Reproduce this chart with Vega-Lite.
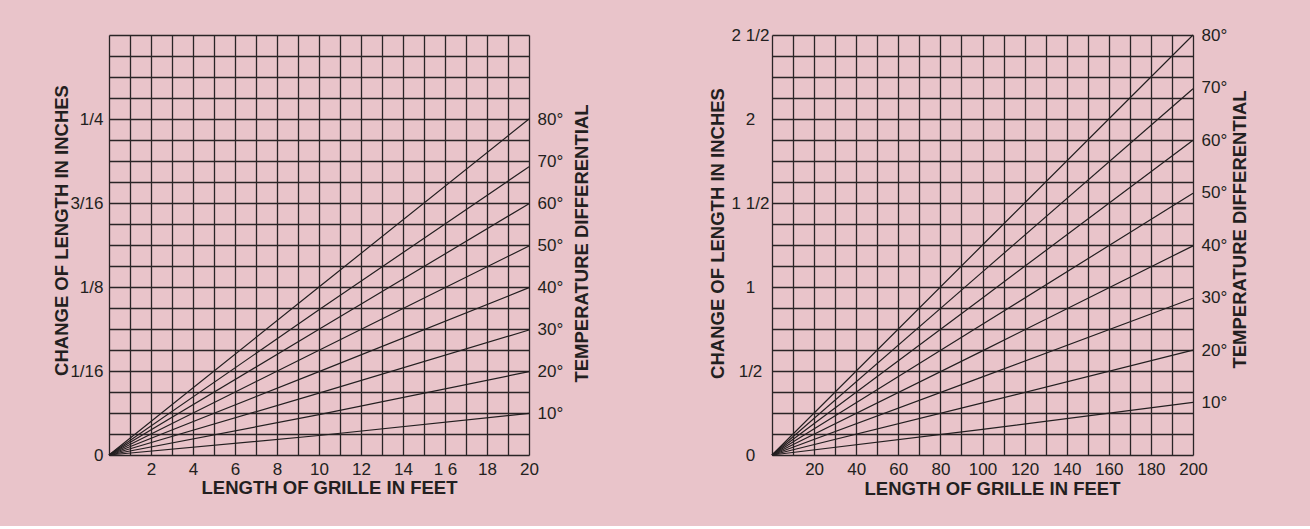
{
  "$schema": "https://vega.github.io/schema/vega-lite/v6.json",
  "background": "#e9c4ca",
  "padding": {"left": 52, "top": 26, "right": 65, "bottom": 28},
  "spacing": 243,
  "bounds": "flush",
  "datasets": {
    "leftLines": [
      {"T": 80, "ft": 0, "inch": 0}, {"T": 80, "ft": 10, "inch": 0.125}, {"T": 80, "ft": 20, "inch": 0.25},
      {"T": 70, "ft": 0, "inch": 0}, {"T": 70, "ft": 10, "inch": 0.108}, {"T": 70, "ft": 20, "inch": 0.2145},
      {"T": 60, "ft": 0, "inch": 0}, {"T": 60, "ft": 10, "inch": 0.0935}, {"T": 60, "ft": 20, "inch": 0.187},
      {"T": 50, "ft": 0, "inch": 0}, {"T": 50, "ft": 10, "inch": 0.078}, {"T": 50, "ft": 20, "inch": 0.1555},
      {"T": 40, "ft": 0, "inch": 0}, {"T": 40, "ft": 10, "inch": 0.062}, {"T": 40, "ft": 20, "inch": 0.1245},
      {"T": 30, "ft": 0, "inch": 0}, {"T": 30, "ft": 10, "inch": 0.046}, {"T": 30, "ft": 20, "inch": 0.093},
      {"T": 20, "ft": 0, "inch": 0}, {"T": 20, "ft": 10, "inch": 0.030}, {"T": 20, "ft": 20, "inch": 0.062},
      {"T": 10, "ft": 0, "inch": 0}, {"T": 10, "ft": 10, "inch": 0.0145}, {"T": 10, "ft": 20, "inch": 0.031}
    ],
    "rightLines": [
      {"T": 80, "ft": 0, "inch": 0}, {"T": 80, "ft": 100, "inch": 1.25}, {"T": 80, "ft": 200, "inch": 2.5},
      {"T": 70, "ft": 0, "inch": 0}, {"T": 70, "ft": 100, "inch": 1.09}, {"T": 70, "ft": 200, "inch": 2.18},
      {"T": 60, "ft": 0, "inch": 0}, {"T": 60, "ft": 100, "inch": 0.935}, {"T": 60, "ft": 200, "inch": 1.873},
      {"T": 50, "ft": 0, "inch": 0}, {"T": 50, "ft": 100, "inch": 0.778}, {"T": 50, "ft": 200, "inch": 1.558},
      {"T": 40, "ft": 0, "inch": 0}, {"T": 40, "ft": 100, "inch": 0.62}, {"T": 40, "ft": 200, "inch": 1.245},
      {"T": 30, "ft": 0, "inch": 0}, {"T": 30, "ft": 100, "inch": 0.465}, {"T": 30, "ft": 200, "inch": 0.933},
      {"T": 20, "ft": 0, "inch": 0}, {"T": 20, "ft": 100, "inch": 0.31}, {"T": 20, "ft": 200, "inch": 0.624},
      {"T": 10, "ft": 0, "inch": 0}, {"T": 10, "ft": 100, "inch": 0.152}, {"T": 10, "ft": 200, "inch": 0.313}
    ]
  },
  "hconcat": [
    {
      "width": 420,
      "height": 420,
      "resolve": {"scale": {"y": "independent"}},
      "layer": [
        {
          "data": {"name": "leftLines"},
          "mark": {"type": "line", "color": "#231f20", "strokeWidth": 1.2},
          "encoding": {
            "x": {
              "field": "ft", "type": "quantitative",
              "scale": {"domain": [0, 20], "nice": false},
              "axis": {
                "values": [0,1,2,3,4,5,6,7,8,9,10,11,12,13,14,15,16,17,18,19,20],
                "grid": true,
                "labelExpr": "datum.value > 0 && datum.value % 2 == 0 ? (datum.value == 16 ? '1 6' : datum.label) : ''",
                "labelBaseline": "alphabetic",
                "labelPadding": 19,
                "title": "LENGTH OF GRILLE IN FEET",
                "titleX": 220,
                "titleY": 38,
                "titleBaseline": "alphabetic",
                "titleAlign": "center"
              }
            },
            "y": {
              "field": "inch", "type": "quantitative",
              "scale": {"domain": [0, 0.3125], "nice": false},
              "axis": {
                "values": [0,0.015625,0.03125,0.046875,0.0625,0.078125,0.09375,0.109375,0.125,0.140625,0.15625,0.171875,0.1875,0.203125,0.21875,0.234375,0.25,0.265625,0.28125,0.296875,0.3125],
                "grid": true,
                "labelExpr": "datum.value == 0 ? '0' : datum.value == 0.0625 ? '1/16' : datum.value == 0.125 ? '1/8' : datum.value == 0.1875 ? '3/16' : datum.value == 0.25 ? '1/4' : ''",
                "labelPadding": 6,
                "title": "CHANGE OF LENGTH IN INCHES",
                "titleAngle": -90,
                "titleX": -42,
                "titleY": 195,
                "titleBaseline": "alphabetic",
                "titleAlign": "center"
              }
            },
            "detail": {"field": "T", "type": "nominal"}
          }
        },
        {
          "data": {"name": "leftLines"},
          "mark": {"type": "point", "opacity": 0},
          "encoding": {
            "x": {
              "field": "ft", "type": "quantitative",
              "axis": {
                "values": [0,1,2,3,4,5,6,7,8,9,10,11,12,13,14,15,16,17,18,19,20],
                "grid": true,
                "labelExpr": "datum.value > 0 && datum.value % 2 == 0 ? (datum.value == 16 ? '1 6' : datum.label) : ''",
                "labelBaseline": "alphabetic",
                "labelPadding": 19,
                "title": "LENGTH OF GRILLE IN FEET",
                "titleX": 220,
                "titleY": 38,
                "titleBaseline": "alphabetic",
                "titleAlign": "center"
              }
            },
            "y": {
              "field": "T", "type": "quantitative",
              "scale": {"domain": [0, 100], "nice": false},
              "axis": {
                "orient": "right",
                "values": [10,20,30,40,50,60,70,80],
                "grid": false,
                "labelExpr": "datum.value + '°'",
                "labelPadding": 8,
                "title": "TEMPERATURE DIFFERENTIAL",
                "titleAngle": -90,
                "titleX": 58,
                "titleY": 208,
                "titleBaseline": "alphabetic",
                "titleAlign": "center"
              }
            }
          }
        }
      ]
    },
    {
      "width": 421,
      "height": 420,
      "resolve": {"scale": {"y": "independent"}},
      "layer": [
        {
          "data": {"name": "rightLines"},
          "mark": {"type": "line", "color": "#231f20", "strokeWidth": 1.2},
          "encoding": {
            "x": {
              "field": "ft", "type": "quantitative",
              "scale": {"domain": [0, 200], "nice": false},
              "axis": {
                "values": [0,10,20,30,40,50,60,70,80,90,100,110,120,130,140,150,160,170,180,190,200],
                "grid": true,
                "labelExpr": "datum.value > 0 && datum.value % 20 == 0 ? datum.label : ''",
                "labelBaseline": "alphabetic",
                "labelPadding": 19,
                "title": "LENGTH OF GRILLE IN FEET",
                "titleX": 220,
                "titleY": 39.5,
                "titleBaseline": "alphabetic",
                "titleAlign": "center"
              }
            },
            "y": {
              "field": "inch", "type": "quantitative",
              "scale": {"domain": [0, 2.5], "nice": false},
              "axis": {
                "values": [0,0.125,0.25,0.375,0.5,0.625,0.75,0.875,1,1.125,1.25,1.375,1.5,1.625,1.75,1.875,2,2.125,2.25,2.375,2.5],
                "grid": true,
                "labelExpr": "datum.value == 0 ? '0' : datum.value == 0.5 ? '1/2' : datum.value == 1 ? '1' : datum.value == 1.5 ? '1 1/2' : datum.value == 2 ? '2' : datum.value == 2.5 ? '2 1/2' : ''",
                "labelAlign": "center",
                "labelPadding": 22,
                "title": "CHANGE OF LENGTH IN INCHES",
                "titleAngle": -90,
                "titleX": -48.8,
                "titleY": 198,
                "titleBaseline": "alphabetic",
                "titleAlign": "center"
              }
            },
            "detail": {"field": "T", "type": "nominal"}
          }
        },
        {
          "data": {"name": "rightLines"},
          "mark": {"type": "point", "opacity": 0},
          "encoding": {
            "x": {
              "field": "ft", "type": "quantitative",
              "axis": {
                "values": [0,10,20,30,40,50,60,70,80,90,100,110,120,130,140,150,160,170,180,190,200],
                "grid": true,
                "labelExpr": "datum.value > 0 && datum.value % 20 == 0 ? datum.label : ''",
                "labelBaseline": "alphabetic",
                "labelPadding": 19,
                "title": "LENGTH OF GRILLE IN FEET",
                "titleX": 220,
                "titleY": 39.5,
                "titleBaseline": "alphabetic",
                "titleAlign": "center"
              }
            },
            "y": {
              "field": "T", "type": "quantitative",
              "scale": {"domain": [0, 80], "nice": false},
              "axis": {
                "orient": "right",
                "values": [10,20,30,40,50,60,70,80],
                "grid": false,
                "labelExpr": "datum.value + '°'",
                "labelPadding": 8,
                "title": "TEMPERATURE DIFFERENTIAL",
                "titleAngle": -90,
                "titleX": 52.3,
                "titleY": 194,
                "titleBaseline": "alphabetic",
                "titleAlign": "center"
              }
            }
          }
        }
      ]
    }
  ],
  "config": {
    "view": {"stroke": null},
    "axis": {
      "labelFont": "Liberation Sans",
      "titleFont": "Liberation Sans",
      "labelColor": "#231f20",
      "titleColor": "#231f20",
      "labelFontSize": 17,
      "titleFontSize": 18.5,
      "titleFontWeight": "bold",
      "gridColor": "#2a2426",
      "gridOpacity": 1,
      "gridWidth": 1.3,
      "domain": false,
      "ticks": false,
      "tickSize": 0,
      "labelOverlap": false,
      "labelFlush": false,
      "labelBound": false
    }
  }
}
